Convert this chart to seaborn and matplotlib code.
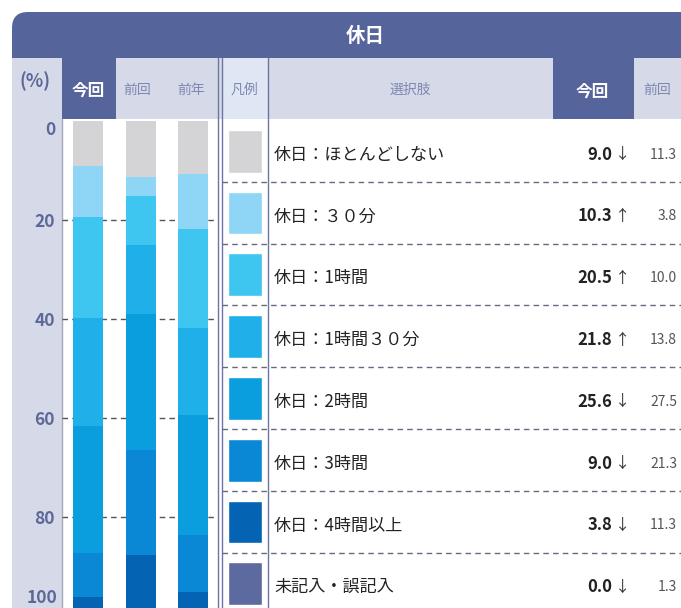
import numpy as np
import pandas as pd
import matplotlib
matplotlib.use("Agg")
import matplotlib.pyplot as plt
from matplotlib.patches import FancyBboxPatch, Rectangle
import seaborn as sns

# ---------------- data ----------------
periods = ["今回", "前回", "前年"]
choices = ["休日：ほとんどしない", "休日：３０分", "休日：1時間", "休日：1時間３０分",
           "休日：2時間", "休日：3時間", "休日：4時間以上", "未記入・誤記入"]
now_vals = [9.0, 10.3, 20.5, 21.8, 25.6, 9.0, 3.8, 0.0]
prev_vals = [11.3, 3.8, 10.0, 13.8, 27.5, 21.3, 11.3, 1.3]
lastyear_vals = [10.7, 11.1, 20.0, 17.6, 24.2, 11.5, 4.9, 0.0]
arrows = ["↓", "↑", "↑", "↑", "↓", "↓", "↓", "↓"]
colors = ["#d4d4d7", "#8fd5f5", "#3ec5f0", "#20b0e9", "#0b9edf", "#0a88d5", "#0563b4", "#5c6aa0"]
yticks = [0, 20, 40, 60, 80, 100]
title = "休日"

# ---------------- style ----------------
sns.set_style("white")
plt.rcParams["font.family"] = ["Noto Sans CJK JP", "DejaVu Sans"]

W, H = 681, 608
fig = plt.figure(figsize=(W / 100, H / 100), dpi=100)

def fx(px):
    return px / W

def fy(py):
    return 1 - py / H

# background / frame axes in pixel coords
bg = fig.add_axes([0, 0, 1, 1])
bg.set_xlim(0, W)
bg.set_ylim(H, 0)
bg.axis("off")

dark = "#55649a"
lav = "#d6dae8"
legend_bg = "#dfe7f4"
tick_col = "#5c6898"
hdr_txt = "#7e88b2"

bg.add_patch(FancyBboxPatch((12, 12), 720, 650, boxstyle="round,pad=0,rounding_size=16",
                            fc=dark, ec="none", zorder=0))
bg.add_patch(Rectangle((12, 58), 50, 600, fc=lav, ec="none", zorder=1))
bg.add_patch(Rectangle((62, 119), 640, 600, fc="white", ec="none", zorder=1))
bg.add_patch(Rectangle((116, 58), 102, 61, fc=lav, ec="none", zorder=1))
bg.add_patch(Rectangle((218, 58), 4, 61, fc=lav, ec="none", zorder=1))
bg.add_patch(Rectangle((222, 58), 46, 61, fc=legend_bg, ec="none", zorder=1))
bg.add_patch(Rectangle((268, 58), 285, 61, fc=lav, ec="none", zorder=1))
bg.add_patch(Rectangle((634, 58), 60, 61, fc=lav, ec="none", zorder=1))
bg.add_patch(FancyBboxPatch((63, 56), 52, 62, boxstyle="round,pad=0,rounding_size=4",
                            fc=dark, ec="none", zorder=2))
# vertical lines
bg.plot([62, 62], [119, H], color="#a3a7bb", lw=1, zorder=3)
bg.plot([218, 218], [58, H], color="#6b759f", lw=1, zorder=3)
bg.plot([222, 222], [58, H], color="#6b759f", lw=1, zorder=3)
bg.plot([268, 268], [58, H], color="#6b759f", lw=1, zorder=3)

# header texts
bg.text(365, 36, title, color="white", fontsize=14, fontweight="bold", ha="center", va="center", zorder=4)
bg.text(35, 81, "(%)", color=tick_col, fontsize=13, fontweight="bold", ha="center", va="center", zorder=4)
bg.text(88, 91, "今回", color="white", fontsize=12, fontweight="bold", ha="center", va="center", zorder=4)
bg.text(137, 90, "前回", color=hdr_txt, fontsize=10, ha="center", va="center", zorder=4)
bg.text(191, 90, "前年", color=hdr_txt, fontsize=10, ha="center", va="center", zorder=4)
bg.text(244, 90, "凡例", color=hdr_txt, fontsize=10, ha="center", va="center", zorder=4)
bg.text(410, 90, "選択肢", color=hdr_txt, fontsize=10, ha="center", va="center", zorder=4)
bg.text(592, 92, "今回", color="white", fontsize=12, fontweight="bold", ha="center", va="center", zorder=4)
bg.text(657, 90, "前回", color=hdr_txt, fontsize=10, ha="center", va="center", zorder=4)

# ---------------- stacked bars ----------------
k = 52.5
xmin = -26 / k
xmax = xmin + 156 / k
y0px, y100px = 121, 616
ax = fig.add_axes([fx(62), fy(y100px), fx(218) - fx(62), fy(y0px) - fy(y100px)])
ax.patch.set_alpha(0)

df = pd.DataFrame({"period": np.repeat(periods, len(choices)),
                   "choice": choices * len(periods),
                   "value": now_vals + prev_vals + lastyear_vals})
df["cum"] = df.groupby("period", sort=False)["value"].cumsum()

for yv in yticks[1:-1]:
    ax.axhline(yv, color="#555555", lw=1, ls=(0, (4, 3)), zorder=0)

for i in range(len(choices) - 1, -1, -1):
    sub = df[df["choice"] == choices[i]]
    sns.barplot(data=sub, x="period", y="cum", order=periods, color=colors[i],
                saturation=1, width=30 / k, errorbar=None, ax=ax, zorder=2, linewidth=0)

ax.set_xlim(xmin, xmax)
ax.set_ylim(100, 0)
ax.set_xticks([])
ax.set_xlabel("")
ax.set_ylabel("")
ax.set_yticks(yticks[:-1])
ax.set_yticklabels([str(v) for v in yticks[:-1]])
ax.tick_params(axis="y", length=0, pad=5, labelsize=12.5, labelcolor=tick_col)
for lbl in ax.get_yticklabels():
    lbl.set_fontweight("bold")
ax.get_yticklabels()[0].set_va("top")
# last tick label (100) sits at the figure's bottom edge; keep it visible
bg.text(57, 607, str(yticks[-1]), color=tick_col, fontsize=12.5, fontweight="bold",
        ha="right", va="bottom", zorder=4)
for s in ax.spines.values():
    s.set_visible(False)

# ---------------- table ----------------
row_h = 61.8
n = len(choices)
tab = fig.add_axes([fx(222), fy(120 + n * row_h), fx(W) - fx(222), fy(120) - fy(120 + n * row_h)])
tab.patch.set_alpha(0)
tab.set_xlim(222, W)
tab.set_ylim(n, 0)
tab.axis("off")

rows = np.arange(n)
tab.bar(np.full(n, 245.0), np.full(n, 0.69), bottom=rows + 0.16, width=34, color=colors, zorder=2)
tab.hlines(rows[1:], 222, W, colors="#666a80", lw=1, linestyles=(0, (4, 3)), zorder=1)
for i in rows:
    yc = i + 0.56
    tab.text(274, yc, choices[i], fontsize=12.3, color="#222222", ha="left", va="center")
    tab.text(612, yc, f"{now_vals[i]:.1f}", fontsize=12, fontweight="bold", color="#222222",
             ha="right", va="center")
    tab.text(623, yc, arrows[i], fontsize=11, color="#333333", ha="center", va="center")
    tab.text(677, yc, f"{prev_vals[i]:.1f}", fontsize=10, color="#555555", ha="right", va="center")

fig.savefig("out.png", dpi=100)
